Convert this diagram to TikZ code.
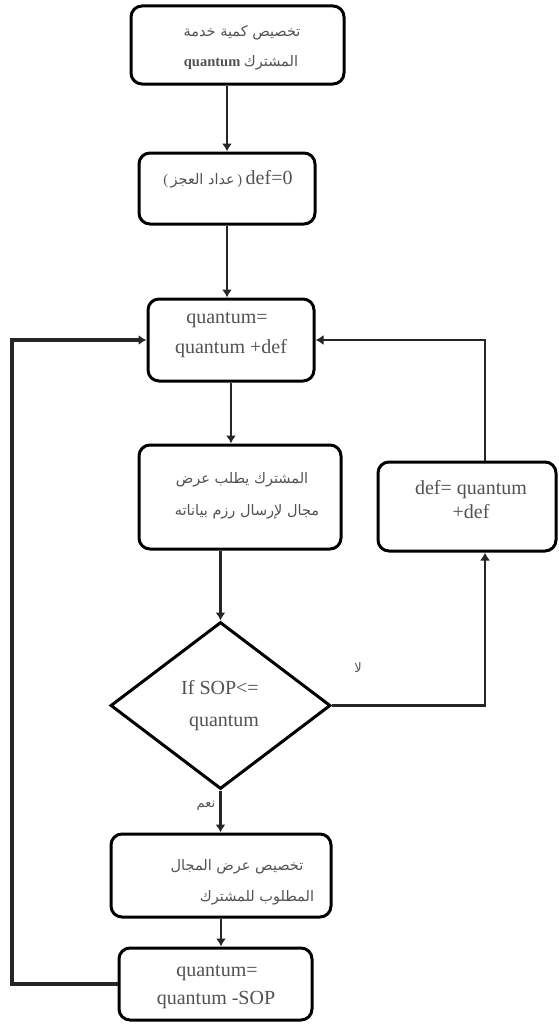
\documentclass[tikz,border=0pt]{standalone}
\usepackage{fontspec}
\setmainfont{Liberation Serif}
\newfontfamily\arfont[Script=Arabic]{DejaVu Sans}
\TeXXeTstate=1
\usetikzlibrary{shapes.geometric,arrows.meta,calc}
\newcommand{\ar}[1]{{\arfont\beginR #1\endR}}
\begin{document}
\begin{tikzpicture}[x=1pt,y=-1pt,
  box/.style={draw=black, line width=3pt, rounded corners=11pt, inner sep=0pt},
  dia/.style={draw=black, line width=3pt, diamond, inner sep=0pt},
  txt/.style={inner sep=0pt, text=black!68, font=\fontsize{20}{24}\selectfont},
  artxt/.style={inner sep=0pt, text=black!68, font=\fontsize{14.5}{17}\selectfont},
  arr/.style={line width=2.8pt, draw=black!85, -{Latex[length=8pt,width=10pt]}},
  lbl/.style={inner sep=0pt, text=black!68, font=\fontsize{13}{15}\selectfont}]
\useasboundingbox (0,0) rectangle (559,1025);
% boxes
\node[box, minimum width=213pt, minimum height=78pt] (b1) at (237.5,45) {};
\node[box, minimum width=176pt, minimum height=71pt] (b2) at (227,188.5) {};
\node[box, minimum width=166pt, minimum height=82pt] (b3) at (231,340) {};
\node[box, minimum width=202pt, minimum height=104pt] (b4) at (240,497) {};
\node[box, minimum width=178pt, minimum height=89pt] (b5) at (467,506.5) {};
\node[dia, minimum width=220pt, minimum height=167pt] (d) at (220.5,705.5) {};
\node[box, minimum width=220pt, minimum height=83pt] (b6) at (221,875.5) {};
\node[box, minimum width=193pt, minimum height=72pt] (b7) at (215.5,984) {};
% texts
\node[artxt] (t1a) at (242,33) {\ar{تخصيص كمية خدمة}};
\node[artxt] (t1b) at (241,63) {{\fontsize{14.5}{17}\selectfont\bfseries quantum} \ar{المشترك}};
\node[artxt] (t2) at (228,179) {(\,\ar{عداد العجز}\,)\ {\fontsize{20}{24}\selectfont def=0}};
\node[txt] (t3a) at (227,320) {quantum=};
\node[txt] (t3b) at (231,349) {quantum +def};
\node[artxt] (t4a) at (242,480) {\ar{المشترك يطلب عرض}};
\node[artxt] (t4b) at (247,512) {\ar{مجال لإرسال رزم بياناته}};
\node[txt] (t5a) at (471,490) {def= quantum};
\node[txt] (t5b) at (471,512) {+def};
\node[txt] (tda) at (220,688) {If SOP<=};
\node[txt] (tdb) at (224,723) {quantum};
\node[artxt] (t6a) at (237,867) {\ar{تخصيص عرض المجال}};
\node[artxt] (t6b) at (257,898) {\ar{المطلوب للمشترك}};
\node[txt] (t7a) at (217,973) {quantum=};
\node[txt] (t7b) at (216,1000) {quantum -SOP};
\node[lbl] (no) at (358,668) {\ar{لا}};
\node[lbl] (yes) at (206,806) {\ar{نعم}};
\coordinate (L) at (12,985);
% connectors
\draw[arr] (b1.south -| b2.north) -- (b2.north);
\draw[arr] (b2.south) -- (b2.south |- b3.north);
\draw[arr] (b3.south) -- (b3.south |- b4.north);
\draw[arr] (d.north |- b4.south) -- (d.north);
\draw[arr] (d.south) -- (d.south |- b6.north);
\draw[arr] (b6.south) -- (b6.south |- b7.north);
\draw[arr] (d.east) -| ([xshift=18pt]b5.south);
\draw[arr] ([xshift=18pt]b5.north) |- (b3.east);
\draw[arr, line width=4pt] (b7.west) -- (b7.west -| L) |- (b3.west);
\end{tikzpicture}
\end{document}
